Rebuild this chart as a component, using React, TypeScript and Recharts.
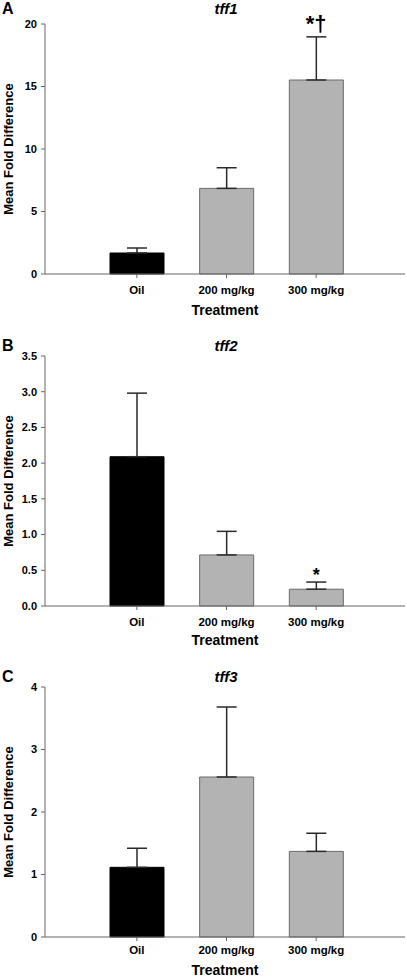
import React from 'react';
import { BarChart, Bar, XAxis, YAxis, ErrorBar, Cell, ReferenceDot } from 'recharts';

const categories = ['Oil', '200 mg/kg', '300 mg/kg'];
const barColors = ['#000000', '#b3b3b3', '#b3b3b3'];
const barStrokes = ['#000000', '#6a6a6a', '#6a6a6a'];

const tff1Means = [1.68, 6.85, 15.52];
const tff1Errors = [0.4, 1.65, 3.45];
const tff1Sig = ['', '', '*†'];
const tff1Ticks = [0, 5, 10, 15, 20];

const tff2Means = [2.09, 0.715, 0.235];
const tff2Errors = [0.89, 0.33, 0.1];
const tff2Sig = ['', '', '*'];
const tff2Ticks = [0, 0.5, 1.0, 1.5, 2.0, 2.5, 3.0, 3.5];

const tff3Means = [1.115, 2.56, 1.37];
const tff3Errors = [0.305, 1.12, 0.29];
const tff3Sig = ['', '', ''];
const tff3Ticks = [0, 1, 2, 3, 4];

const FONT = '"Liberation Sans", Arial, sans-serif';

type PanelProps = {
  top: number;
  letter: string;
  title: string;
  means: number[];
  errors: number[];
  sig: string[];
  ticks: number[];
  decimals: number;
  tickGap: number;
  sigFont: number;
  sigOffset: number;
  labelOffset: number;
  headTop: number;
};

function Panel(p: PanelProps) {
  const data = categories.map((name, i) => ({
    name,
    value: p.means[i],
    err: [0, p.errors[i]],
    top: p.means[i] + p.errors[i],
    sig: p.sig[i],
  }));
  const W = 407;
  const H = 320;
  return (
    <div style={{ position: 'absolute', left: 0, top: p.top, width: W, height: H }}>
      <BarChart
        width={W}
        height={H}
        data={data}
        margin={{ top: 24, right: 2, bottom: 2, left: 0 }}
        barSize={54}
        style={{ fontFamily: FONT }}
      >
        <XAxis
          dataKey="name"
          type="category"
          padding={{ left: 47, right: 44 }}
          height={44}
          axisLine={{ stroke: '#666', strokeWidth: 1 }}
          tickLine={{ stroke: '#666', strokeWidth: 1 }}
          tickSize={4}
          tickMargin={p.tickGap}
          tick={{ fill: '#000', fontSize: 11.5, fontWeight: 'bold', fontFamily: FONT }}
          interval={0}
          label={{
            value: 'Treatment',
            position: 'insideBottom',
            offset: p.labelOffset,
            style: { fill: '#000', fontSize: 14, fontWeight: 'bold', fontFamily: FONT, textAnchor: 'middle' },
          }}
        />
        <YAxis
          width={45}
          domain={[p.ticks[0], p.ticks[p.ticks.length - 1]]}
          ticks={p.ticks}
          tickFormatter={(v: number) => v.toFixed(p.decimals)}
          axisLine={{ stroke: '#666', strokeWidth: 1 }}
          tickLine={{ stroke: '#666', strokeWidth: 1 }}
          tickSize={4}
          tickMargin={4}
          tick={{ fill: '#000', fontSize: 11, fontWeight: 'bold', fontFamily: FONT }}
          label={{
            value: 'Mean Fold Difference',
            angle: -90,
            position: 'insideLeft',
            offset: 8,
            style: { fill: '#000', fontSize: 13, fontWeight: 'bold', fontFamily: FONT, textAnchor: 'middle' },
          }}
        />
        <Bar dataKey="value" isAnimationActive={false} strokeWidth={1}>
          {data.map((d, i) => (
            <Cell key={d.name} fill={barColors[i]} stroke={barStrokes[i]} />
          ))}
          <ErrorBar dataKey="err" direction="y" width={10} stroke="#2a2a2a" strokeWidth={1.5} isAnimationActive={false} />
        </Bar>
        {data
          .filter((d) => d.sig)
          .map((d) => (
            <ReferenceDot
              key={'sig-' + d.name}
              x={d.name}
              y={d.top}
              r={0}
              fill="none"
              stroke="none"
              label={{
                value: d.sig,
                position: 'top',
                offset: p.sigOffset,
                style: { fill: '#000', fontSize: p.sigFont, fontWeight: 'bold', fontFamily: FONT },
              }}
            />
          ))}
      </BarChart>
      <div
        style={{
          position: 'absolute',
          left: 2,
          top: p.headTop,
          fontFamily: FONT,
          fontWeight: 'bold',
          fontSize: 16,
          lineHeight: '16px',
          color: '#000',
        }}
      >
        {p.letter}
      </div>
      <div
        style={{
          position: 'absolute',
          left: 46,
          width: 360,
          top: p.headTop,
          textAlign: 'center',
          fontFamily: FONT,
          fontWeight: 'bold',
          fontStyle: 'italic',
          fontSize: 15,
          lineHeight: '15px',
          color: '#000',
        }}
      >
        {p.title}
      </div>
    </div>
  );
}

export default function App() {
  return (
    <div style={{ position: 'absolute', left: 0, top: 0, width: 407, height: 977, background: '#fff', overflow: 'hidden' }}>
      <Panel
        top={0}
        letter="A"
        title="tff1"
        means={tff1Means}
        errors={tff1Errors}
        sig={tff1Sig}
        ticks={tff1Ticks}
        decimals={0}
        tickGap={8}
        sigFont={22}
        sigOffset={6}
        labelOffset={3}
        headTop={0.5}
      />
      <Panel
        top={332}
        letter="B"
        title="tff2"
        means={tff2Means}
        errors={tff2Errors}
        sig={tff2Sig}
        ticks={tff2Ticks}
        decimals={1}
        tickGap={8}
        sigFont={18}
        sigOffset={1}
        labelOffset={5}
        headTop={6}
      />
      <Panel
        top={663}
        letter="C"
        title="tff3"
        means={tff3Means}
        errors={tff3Errors}
        sig={tff3Sig}
        ticks={tff3Ticks}
        decimals={0}
        tickGap={5}
        sigFont={18}
        sigOffset={4}
        labelOffset={6}
        headTop={6}
      />
    </div>
  );
}
